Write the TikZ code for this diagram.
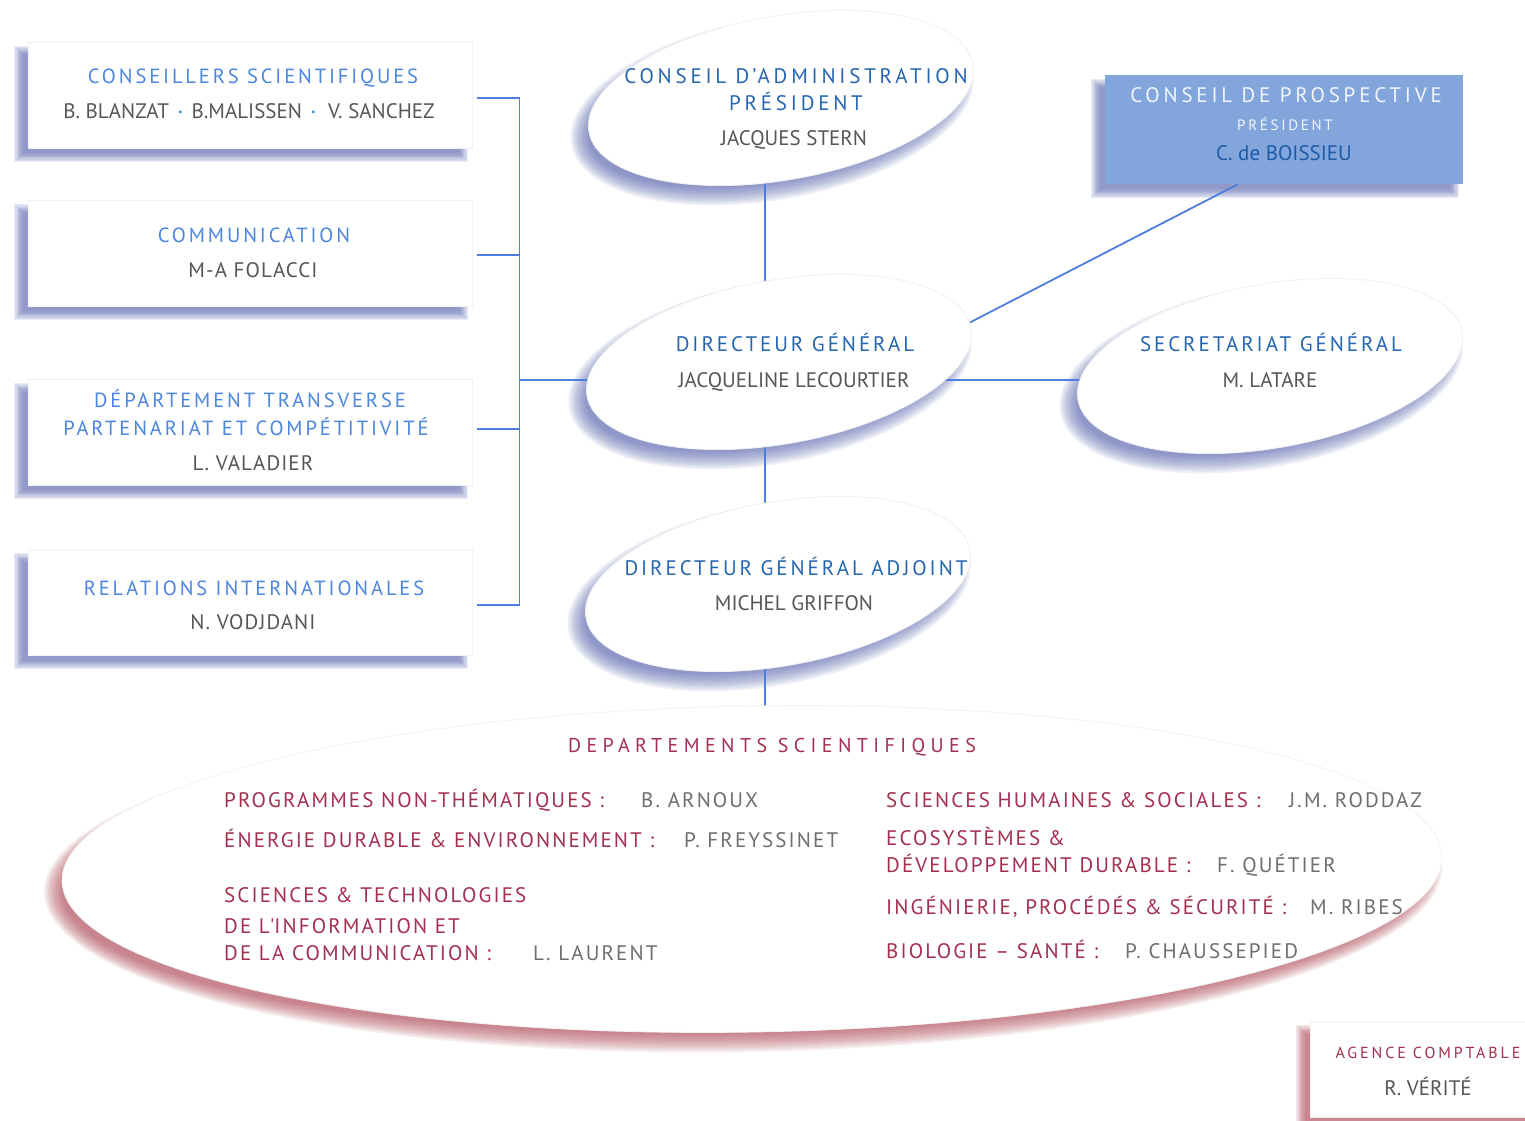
\documentclass[tikz,border=0pt]{standalone}
\usepackage{fontspec}
\setmainfont{PT Sans}
\newfontfamily\hdr[LetterSpace=14]{PT Sans}
\newfontfamily\hdrw[LetterSpace=18]{PT Sans}
\newfontfamily\dspf[LetterSpace=27]{PT Sans}
\newfontfamily\itmf[LetterSpace=10]{PT Sans}
\newfontfamily\nmsp[LetterSpace=5]{PT Sans}
\usetikzlibrary{shapes.geometric,calc}
\definecolor{hdrblue}{HTML}{4C86DE}
\definecolor{ellblue}{HTML}{2566B0}
\definecolor{namegray}{HTML}{565656}
\definecolor{itemgray}{HTML}{6E6E6E}
\definecolor{lineblue}{HTML}{4E7EDD}
\definecolor{shblue}{HTML}{5A66B0}
\definecolor{shred}{HTML}{B04A58}
\definecolor{ppfill}{HTML}{82A5DC}
\definecolor{pptext}{HTML}{F2F5FB}
\definecolor{ppname}{HTML}{1D5BA6}
\definecolor{redtext}{HTML}{A3304F}
\newcommand\ovshadow[6]{%
  \foreach \k in {0,...,9}{%
    \fill[#6, opacity=0.1, rotate around={#5:(#1-9,#2+11)}]
      (#1-9,#2+11) ellipse [x radius={#3+9-2*\k}, y radius={#4+9-2*\k}];
  }}
\newcommand\boxshadow[5]{%
  \foreach \k in {0,...,7}{%
    \fill[#5, opacity=0.12] (#1-14+1.25*\k, #2+4+1.25*\k) rectangle (#3-4-1.25*\k, #4+14-1.25*\k);
  }}
\newcommand\sepdot{{\color{hdrblue}\fontsize{10}{10}\selectfont\raisebox{3pt}{•}}}
\begin{document}
\begin{tikzpicture}[x=1pt,y=-1pt]
\tikzset{
  conn/.style={draw=lineblue, line width=1.8pt},
  box/.style={rectangle, fill=white, draw=black!5, line width=0.8pt, inner sep=0, minimum width=444pt, minimum height=106pt},
  oval/.style={ellipse, fill=white, draw=black!6, line width=0.8pt, inner sep=0, minimum width=390pt, minimum height=164pt, rotate=10},
  t/.style={inner sep=0, anchor=base},
  hb/.style={t, text=hdrblue, font=\hdr\fontsize{20.5}{20.5}\selectfont},
  eh/.style={t, text=ellblue, font=\hdr\fontsize{21}{21}\selectfont},
  ehw/.style={t, text=ellblue, font=\hdrw\fontsize{21}{21}\selectfont},
  nm/.style={t, text=namegray, font=\fontsize{21}{21}\selectfont},
  nms/.style={t, text=namegray, font=\nmsp\fontsize{21}{21}\selectfont},
  ph/.style={t, text=pptext, font=\hdrw\fontsize{21}{21}\selectfont},
  pps/.style={t, text=pptext, font=\hdrw\fontsize{15}{15}\selectfont},
  ppn/.style={t, text=ppname, font=\fontsize{21}{21}\selectfont},
  dh/.style={t, text=redtext, font=\dspf\fontsize{20}{20}\selectfont},
  rt/.style={inner sep=0, anchor=base west, text=redtext, font=\itmf\fontsize{21}{21}\selectfont},
  gt/.style={inner sep=0, anchor=base west, text=itemgray, font=\itmf\fontsize{21}{21}\selectfont},
  ah/.style={t, text=redtext, font=\hdrw\fontsize{16}{16}\selectfont},
}
\useasboundingbox (0,0) rectangle (1525,1121);
\clip (0,0) rectangle (1525,1121);
\fill[white] (0,0) rectangle (1525,1121);

% ---------- shadows ----------
\boxshadow{28}{42}{472}{148}{shblue}
\boxshadow{28}{200}{472}{306}{shblue}
\boxshadow{28}{379}{472}{485}{shblue}
\boxshadow{28}{549}{472}{655}{shblue}
\boxshadow{1105}{75}{1463}{184}{shblue}
\boxshadow{1310}{1021}{1540}{1117}{shred}
\ovshadow{781}{98}{195}{82}{10}{shblue}
\ovshadow{779}{362}{195}{82}{10}{shblue}
\ovshadow{778}{584}{195}{82}{10}{shblue}
\ovshadow{1270}{366}{195}{82}{10}{shblue}
\ovshadow{752}{869}{690}{163}{1}{shred}

% ---------- named coordinates ----------
\coordinate (vx) at (765,0);
\coordinate (hy) at (0,380);
\coordinate (dgne) at (965,325);
\coordinate (cac) at (781,98);
\coordinate (dsc) at (752,869);
\coordinate (dgc) at (779,362);
\coordinate (sgc) at (1270,366);

% ---------- boxes ----------
\node[box] (cs) at (250,95) {};
\node[box] (com) at (250,253) {};
\node[box] (dt) at (250,432) {};
\node[box] (ri) at (250,602) {};
\node[rectangle, fill=ppfill, inner sep=0, minimum width=358pt, minimum height=109pt] (pp) at (1284,129.5) {};
\node[rectangle, fill=white, draw=black!5, inner sep=0, minimum width=230pt, minimum height=96pt] (ag) at (1425,1069) {};

% ---------- connectors (drawn below the ellipses) ----------
\draw[conn] ($(cs.east)+(5,3)$) -- ($(cs.east)+(47,3)$) -- ($(ri.east)+(47,3)$) -- ($(ri.east)+(5,3)$);
\draw[conn] ($(com.east)+(5,2)$) -- ($(com.east)+(47,2)$);
\draw[conn] ($(dt.east)+(5,-3)$) -- ($(dt.east)+(47,-3)$);
\coordinate (br) at ($(cs.east |- hy)+(47,0)$);
\draw[conn] (br) -- (dgc |- hy) -- (sgc |- hy);
\draw[conn] (cac -| vx) -- (dsc -| vx);
\draw[conn] (dgne) -- (pp.south -| 1238,0);

% ---------- ellipses ----------
\node[oval] (ca) at (cac) {};
\node[oval] (dg) at (dgc) {};
\node[oval] (dga) at (778,584) {};
\node[oval] (sg) at (sgc) {};
\node[ellipse, fill=white, draw=black!5, line width=0.8pt, inner sep=0, minimum width=1380pt, minimum height=326pt, rotate=1] (ds) at (dsc) {};

% ---------- texts: left boxes ----------
\node[hb] (csh) at (253,84) {CONSEILLERS SCIENTIFIQUES};
\node[nm] (csn) at (249,119) {B. BLANZAT \,\sepdot\, B.MALISSEN \,\sepdot\,\, V. SANCHEZ};
\node[hb] (comh) at (254,242) {COMMUNICATION};
\node[nms] (comn) at (253,277) {M-A FOLACCI};
\node[hb] (dth1) at (250,407) {DÉPARTEMENT TRANSVERSE};
\node[hb] (dth2) at (246,435) {PARTENARIAT ET COMPÉTITIVITÉ};
\node[nms] (dtn) at (253,470) {L. VALADIER};
\node[hb] (rih) at (254,595) {RELATIONS INTERNATIONALES};
\node[nms] (rin) at (253,629) {N. VODJDANI};

% ---------- texts: ellipses ----------
\node[ehw] (cah1) at (796,84) {CONSEIL D’ADMINISTRATION};
\node[ehw] (cah2) at (796,111) {PRÉSIDENT};
\node[nm] (can) at (794,146) {JACQUES STERN};
\node[eh] (dgh) at (795,351) {DIRECTEUR GÉNÉRAL};
\node[nm] (dgn) at (794,387) {JACQUELINE LECOURTIER};
\node[eh] (dgah) at (796,575) {DIRECTEUR GÉNÉRAL ADJOINT};
\node[nm] (dgan) at (794,610) {MICHEL GRIFFON};
\node[eh] (sgh) at (1271,351) {SECRETARIAT GÉNÉRAL};
\node[nm] (sgn) at (1270,387) {M. LATARE};

% ---------- texts: prospective ----------
\node[ph] (pph) at (1286,103) {CONSEIL DE PROSPECTIVE};
\node[pps] (ppp) at (1285,131) {PRÉSIDENT};
\node[ppn] (ppnm) at (1284,160) {C. de BOISSIEU};

% ---------- texts: departements ----------
\node[dh] (dsh) at (772,752) {DEPARTEMENTS SCIENTIFIQUES};
\node[rt] (i1) at (224,807) {PROGRAMMES NON-THÉMATIQUES :};
\node[gt] (n1) at (641,807) {B. ARNOUX};
\node[rt] (i2) at (224,847) {ÉNERGIE DURABLE \& ENVIRONNEMENT :};
\node[gt] (n2) at (684,847) {P. FREYSSINET};
\node[rt] (i3a) at (224,902) {SCIENCES \& TECHNOLOGIES};
\node[rt] (i3b) at (224,933) {DE L\textquotesingle INFORMATION ET};
\node[rt] (i3c) at (224,960) {DE LA COMMUNICATION :};
\node[gt] (n3) at (533,960) {L. LAURENT};
\node[rt] (j1) at (886,807) {SCIENCES HUMAINES \& SOCIALES :};
\node[gt] (m1) at (1289,807) {J.M. RODDAZ};
\node[rt] (j2a) at (886,845) {ECOSYSTÈMES \&};
\node[rt] (j2b) at (886,872) {DÉVELOPPEMENT DURABLE :};
\node[gt] (m2) at (1217,872) {F. QUÉTIER};
\node[rt] (j3) at (886,914) {INGÉNIERIE, PROCÉDÉS \& SÉCURITÉ :};
\node[gt] (m3) at (1310,914) {M. RIBES};
\node[rt] (j4) at (886,958) {BIOLOGIE – SANTÉ :};
\node[gt] (m4) at (1125,958) {P. CHAUSSEPIED};

% ---------- texts: agence ----------
\node[ah] (agh) at (1428,1058) {AGENCE COMPTABLE};
\node[nm] (agn) at (1428,1095) {R. VÉRITÉ};
\end{tikzpicture}
\end{document}
